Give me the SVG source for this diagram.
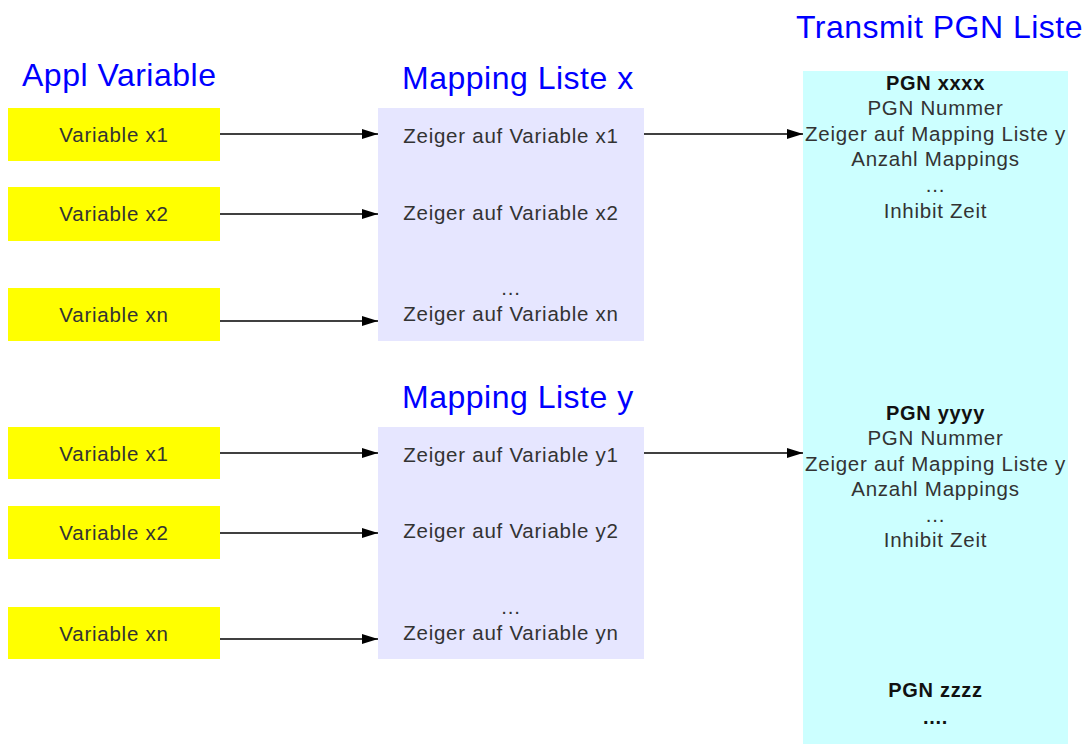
<svg xmlns="http://www.w3.org/2000/svg" width="1090" height="744" viewBox="0 0 1090 744">
  <defs>
    <marker id="arrow" markerUnits="userSpaceOnUse" markerWidth="16" markerHeight="10" refX="16" refY="5" orient="auto">
      <path d="M0,0 L16,5 L0,10 z" fill="#000"/>
    </marker>
    <style>
      .title { font-family: "Liberation Sans", Arial, sans-serif; font-size: 32px; letter-spacing: 0.5px; fill: #0000ff; }
      .item { font-family: "Liberation Sans", Arial, sans-serif; font-size: 20.5px; letter-spacing: 0.75px; fill: #333333; text-anchor: middle; }
      .head { font-family: "Liberation Sans", Arial, sans-serif; font-size: 20px; font-weight: bold; letter-spacing: 0.7px; fill: #111111; text-anchor: middle; }
      .var { fill: #ffff00; }
      .map { fill: #e6e6ff; }
      .pgn { fill: #ccffff; }
      .conn { stroke: #000; stroke-width: 1.5; fill: none; marker-end: url(#arrow); }
    </style>
  </defs>

  <rect width="1090" height="744" fill="#ffffff"/>

  <!-- column headings -->
  <text class="title" x="22" y="86">Appl Variable</text>
  <text class="title" x="402" y="89">Mapping Liste x</text>
  <text class="title" x="402" y="408">Mapping Liste y</text>
  <text class="title" x="796" y="38">Transmit PGN Liste</text>

  <!-- application variables, group x -->
  <g id="var-x1"><rect class="var" x="8" y="108" width="212" height="53"/><text class="item" x="114" y="142">Variable x1</text></g>
  <g id="var-x2"><rect class="var" x="8" y="187" width="212" height="54"/><text class="item" x="114" y="221">Variable x2</text></g>
  <g id="var-xn"><rect class="var" x="8" y="288" width="212" height="53"/><text class="item" x="114" y="322">Variable xn</text></g>

  <!-- application variables, group y -->
  <g id="var-y1"><rect class="var" x="8" y="427" width="212" height="52"/><text class="item" x="114" y="461">Variable x1</text></g>
  <g id="var-y2"><rect class="var" x="8" y="506" width="212" height="53"/><text class="item" x="114" y="540">Variable x2</text></g>
  <g id="var-yn"><rect class="var" x="8" y="607" width="212" height="52"/><text class="item" x="114" y="641">Variable xn</text></g>

  <!-- mapping list x -->
  <g id="mapping-x">
    <rect class="map" x="378" y="108" width="266" height="233"/>
    <text class="item" x="511" y="143">Zeiger auf Variable x1</text>
    <text class="item" x="511" y="220">Zeiger auf Variable x2</text>
    <text class="item" x="511" y="295">...</text>
    <text class="item" x="511" y="321">Zeiger auf Variable xn</text>
  </g>

  <!-- mapping list y -->
  <g id="mapping-y">
    <rect class="map" x="378" y="427" width="266" height="232"/>
    <text class="item" x="511" y="462">Zeiger auf Variable y1</text>
    <text class="item" x="511" y="538">Zeiger auf Variable y2</text>
    <text class="item" x="511" y="614">...</text>
    <text class="item" x="511" y="640">Zeiger auf Variable yn</text>
  </g>

  <!-- transmit PGN list -->
  <g id="pgn-list">
    <rect class="pgn" x="803" y="71" width="265" height="673"/>
    <text class="head" x="935.5" y="90">PGN xxxx</text>
    <text class="item" x="935.5" y="115">PGN Nummer</text>
    <text class="item" x="935.5" y="141">Zeiger auf Mapping Liste y</text>
    <text class="item" x="935.5" y="166">Anzahl Mappings</text>
    <text class="item" x="935.5" y="192">...</text>
    <text class="item" x="935.5" y="218">Inhibit Zeit</text>

    <text class="head" x="935.5" y="420">PGN yyyy</text>
    <text class="item" x="935.5" y="445">PGN Nummer</text>
    <text class="item" x="935.5" y="471">Zeiger auf Mapping Liste y</text>
    <text class="item" x="935.5" y="496">Anzahl Mappings</text>
    <text class="item" x="935.5" y="522">...</text>
    <text class="item" x="935.5" y="547">Inhibit Zeit</text>

    <text class="head" x="935.5" y="697">PGN zzzz</text>
    <text class="head" x="935.5" y="724">....</text>
  </g>

  <!-- connectors -->
  <g id="connectors">
    <line class="conn" x1="220" y1="134" x2="378" y2="134"/>
    <line class="conn" x1="220" y1="214" x2="378" y2="214"/>
    <line class="conn" x1="220" y1="321" x2="378" y2="321"/>
    <line class="conn" x1="220" y1="453" x2="378" y2="453"/>
    <line class="conn" x1="220" y1="533" x2="378" y2="533"/>
    <line class="conn" x1="220" y1="639" x2="378" y2="639"/>
    <line class="conn" x1="644" y1="134" x2="803" y2="134"/>
    <line class="conn" x1="644" y1="453" x2="803" y2="453"/>
  </g>
</svg>
